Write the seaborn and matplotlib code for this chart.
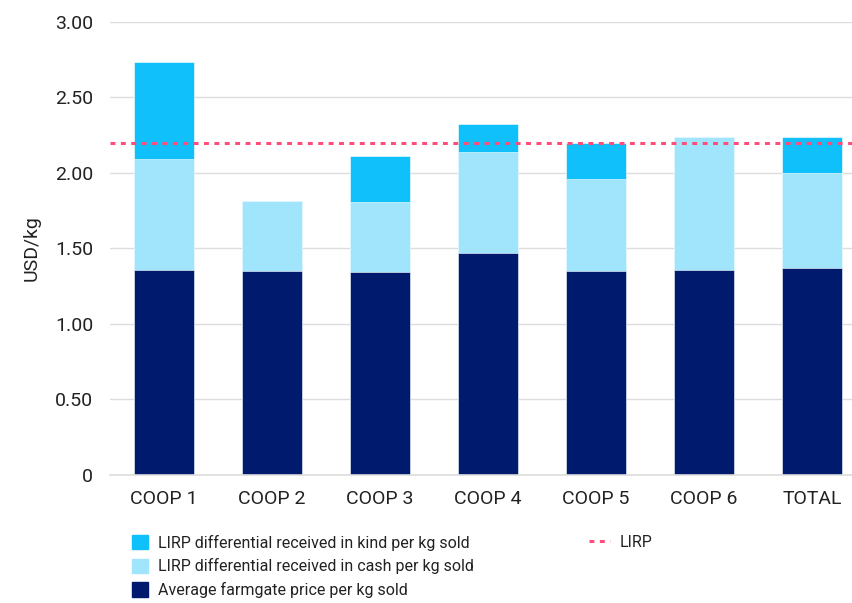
import numpy as np
import pandas as pd
import matplotlib
matplotlib.use("Agg")
import matplotlib.pyplot as plt
import seaborn as sns
from matplotlib.patches import Patch
from matplotlib.lines import Line2D

coops = ["COOP 1", "COOP 2", "COOP 3", "COOP 4", "COOP 5", "COOP 6", "TOTAL"]
farmgate = [1.36, 1.35, 1.345, 1.47, 1.35, 1.36, 1.37]
cash = [0.73, 0.465, 0.465, 0.67, 0.61, 0.875, 0.63]
kind = [0.645, 0.0, 0.305, 0.185, 0.24, 0.0, 0.235]
lirp = 2.20

df = pd.DataFrame({"coop": coops, "farmgate": farmgate, "cash": cash, "kind": kind})
df["lvl2"] = df["farmgate"] + df["cash"]
df["lvl3"] = df["lvl2"] + df["kind"]

sns.set_style("white")
plt.rcParams["font.family"] = ["Roboto", "DejaVu Sans"]

fig = plt.figure(figsize=(8.52, 6.03), dpi=100)
ax = fig.add_axes([0.129, 0.2125, 0.871, 0.751])

c_kind = "#10C0FA"
c_cash = "#A1E5FD"
c_base = "#001A6E"
c_line = "#FF4D7A"
dash = (0, (1.6, 1.8))

sns.barplot(data=df, x="coop", y="lvl3", color=c_kind, width=0.556, ax=ax,
            saturation=1, edgecolor="white", linewidth=0.4)
sns.barplot(data=df, x="coop", y="lvl2", color=c_cash, width=0.556, ax=ax,
            saturation=1, edgecolor="white", linewidth=0.4)
sns.barplot(data=df, x="coop", y="farmgate", color=c_base, width=0.556, ax=ax,
            saturation=1, edgecolor="white", linewidth=0.4)

ax.axhline(lirp, color=c_line, linestyle=dash, linewidth=2.2, zorder=5)

ax.set_ylim(0, 3.0)
ax.set_xlim(-0.5, 6.37)
ax.set_yticks([0, 0.5, 1.0, 1.5, 2.0, 2.5, 3.0])
ax.set_yticklabels(["0", "0.50", "1.00", "1.50", "2.00", "2.50", "3.00"])
ax.yaxis.grid(True, color="#DDDDDD", linewidth=1)
ax.set_axisbelow(True)
for s in ["top", "right", "left"]:
    ax.spines[s].set_visible(False)
ax.spines["bottom"].set_color("#DDDDDD")
ax.spines["bottom"].set_linewidth(1.2)
ax.tick_params(axis="both", length=0, labelsize=14, colors="#222222")
ax.tick_params(axis="x", pad=11)
ax.tick_params(axis="y", pad=12)
ax.set_xlabel("")
ax.set_ylabel("USD/kg", fontsize=14, color="#222222", labelpad=10)

handles = [Patch(color=c_kind), Patch(color=c_cash), Patch(color=c_base)]
labels = ["LIRP differential received in kind per kg sold",
          "LIRP differential received in cash per kg sold",
          "Average farmgate price per kg sold"]
leg1 = fig.legend(handles, labels, loc="upper left", bbox_to_anchor=(0.148, 0.124),
                  frameon=False, fontsize=11.5, handlelength=1.0, handleheight=1.0,
                  handletextpad=0.6, labelspacing=0.48, borderaxespad=0, labelcolor="#222222")
leg2 = fig.legend([Line2D([0], [0], color=c_line, linestyle=dash, linewidth=2.2)],
                  ["LIRP"], loc="upper left", bbox_to_anchor=(0.684, 0.124),
                  frameon=False, fontsize=11.5, handlelength=1.3, handletextpad=0.6,
                  borderaxespad=0, labelcolor="#222222")

fig.savefig("out.png", dpi=100)
